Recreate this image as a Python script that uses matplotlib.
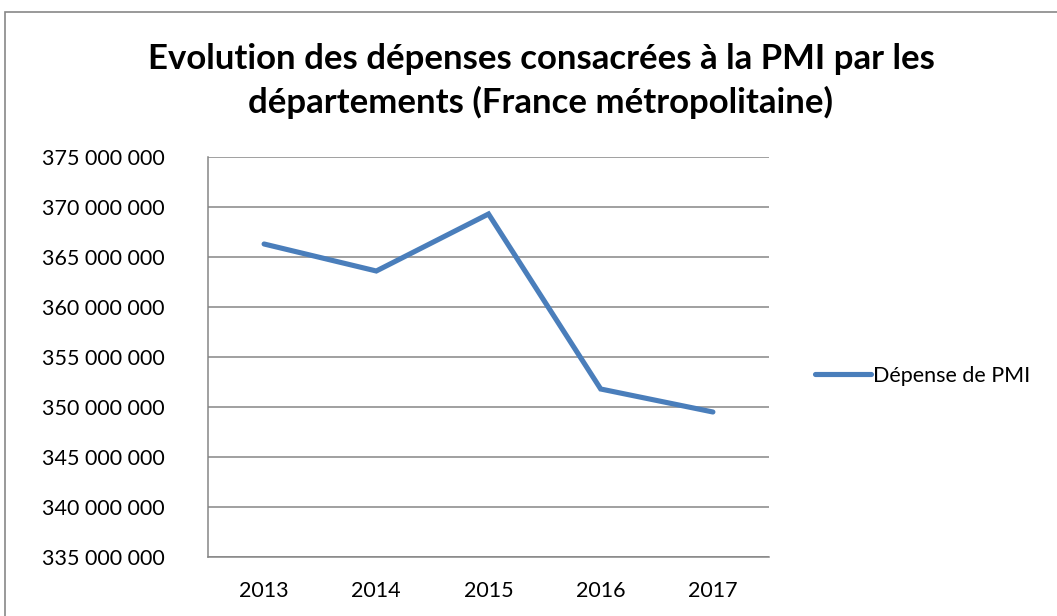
import matplotlib
matplotlib.use("Agg")
import matplotlib.pyplot as plt
from matplotlib.ticker import FuncFormatter, MultipleLocator
from matplotlib.patches import Rectangle

years = ["2013", "2014", "2015", "2016", "2017"]
depense_pmi = [366_300_000, 363_600_000, 369_300_000, 351_800_000, 349_500_000]
series_label = "Dépense de PMI"
title = "Evolution des dépenses consacrées à la PMI par les\ndépartements (France métropolitaine)"

plt.rcParams['font.family'] = ['Lato', 'DejaVu Sans']

W, H = 1057, 616
fig = plt.figure(figsize=(W / 100, H / 100), dpi=100)
fig.patch.set_facecolor("white")

# outer chart frame (cut off on the right and bottom)
fig.add_artist(Rectangle((5 / W, -0.1), 1.2, 1 - 12 / H + 0.1, transform=fig.transFigure,
                         fill=False, edgecolor="#878787", linewidth=1.2))

ax = fig.add_axes([208 / W, 1 - 557 / H, (769 - 208) / W, (557 - 157) / H])
x = range(len(years))
ax.plot(x, depense_pmi, color="#4A7EBB", linewidth=3.7, solid_capstyle="round",
        solid_joinstyle="miter", label=series_label)

ax.set_xlim(-0.5, len(years) - 0.5)
ax.set_ylim(335_000_000, 375_000_000)
ax.yaxis.set_major_locator(MultipleLocator(5_000_000))
ax.yaxis.set_major_formatter(FuncFormatter(lambda v, p: f"{int(v):,}".replace(",", " ")))
ax.set_xticks(list(x))
ax.set_xticklabels(years)

ax.grid(axis="y", color="#868686", linewidth=1.1)
ax.set_axisbelow(True)
for s in ["top", "right"]:
    ax.spines[s].set_visible(False)
for s in ["left", "bottom"]:
    ax.spines[s].set_color("#868686")
    ax.spines[s].set_linewidth(1.1)
ax.tick_params(axis="both", length=0, labelsize=15.5, colors="black")
ax.tick_params(axis="y", pad=31)
ax.tick_params(axis="x", pad=17)

fig.text(541 / W, 1 - 81 / H, title, ha="center", va="center", fontsize=25,
         fontweight="bold", linespacing=1.42)

leg = fig.legend(loc="center left", bbox_to_anchor=(806 / W, 1 - 376 / H), frameon=False,
                 fontsize=15.5, handlelength=2.6, handletextpad=0.1, borderaxespad=0)

fig.savefig("out.png", dpi=100)
